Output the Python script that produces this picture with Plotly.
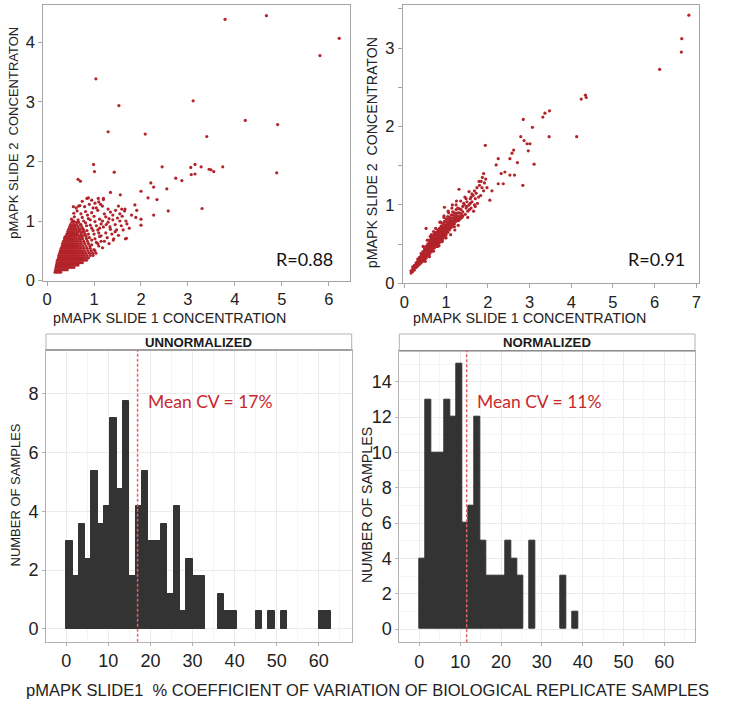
import plotly.graph_objects as go

W, H = 729, 706

# ---------------- DATA ----------------
# Top-left scatter (unnormalized): dense core read as rows (slide2 value, slide1 values)
core_rows_left = [
    (0.14, [0.17, 0.21, 0.25, 0.29]),
    (0.18, [0.18, 0.22, 0.26, 0.30, 0.34, 0.38, 0.43]),
    (0.22, [0.19, 0.23, 0.27, 0.31, 0.35, 0.39, 0.43, 0.47, 0.52, 0.57]),
    (0.26, [0.20, 0.24, 0.28, 0.32, 0.36, 0.40, 0.44, 0.48, 0.52, 0.56, 0.61, 0.66]),
    (0.30, [0.21, 0.25, 0.29, 0.33, 0.37, 0.41, 0.45, 0.49, 0.53, 0.57, 0.61, 0.65, 0.70, 0.75]),
    (0.34, [0.22, 0.26, 0.30, 0.34, 0.38, 0.42, 0.46, 0.50, 0.54, 0.58, 0.62, 0.66, 0.70, 0.74, 0.79, 0.84]),
    (0.38, [0.24, 0.28, 0.32, 0.36, 0.40, 0.44, 0.48, 0.52, 0.56, 0.60, 0.64, 0.68, 0.72, 0.77, 0.82, 0.88]),
    (0.42, [0.25, 0.29, 0.33, 0.37, 0.41, 0.45, 0.49, 0.53, 0.57, 0.61, 0.65, 0.69, 0.74, 0.79, 0.85, 0.92, 0.98]),
    (0.46, [0.27, 0.31, 0.35, 0.39, 0.43, 0.47, 0.51, 0.55, 0.59, 0.63, 0.67, 0.72, 0.77, 0.83, 0.90, 0.97, 1.04]),
    (0.50, [0.28, 0.32, 0.36, 0.40, 0.44, 0.48, 0.52, 0.56, 0.60, 0.64, 0.69, 0.74, 0.80, 0.87, 0.94, 1.02]),
    (0.54, [0.30, 0.34, 0.38, 0.42, 0.46, 0.50, 0.54, 0.58, 0.62, 0.67, 0.72, 0.78, 0.85, 0.92]),
    (0.58, [0.32, 0.36, 0.40, 0.44, 0.48, 0.52, 0.56, 0.60, 0.65, 0.70, 0.76, 0.83, 0.91]),
    (0.62, [0.33, 0.37, 0.41, 0.45, 0.49, 0.53, 0.57, 0.62, 0.67, 0.73, 0.80, 0.88]),
    (0.66, [0.35, 0.39, 0.43, 0.47, 0.51, 0.55, 0.60, 0.65, 0.71, 0.78, 0.86]),
    (0.70, [0.37, 0.41, 0.45, 0.49, 0.53, 0.58, 0.63, 0.69, 0.76, 0.84]),
    (0.74, [0.40, 0.44, 0.48, 0.52, 0.57, 0.62, 0.68, 0.75, 0.83]),
    (0.78, [0.42, 0.46, 0.50, 0.55, 0.60, 0.66, 0.73, 0.81]),
    (0.82, [0.44, 0.48, 0.53, 0.58, 0.64, 0.71, 0.79]),
    (0.86, [0.46, 0.51, 0.56, 0.62, 0.69, 0.77]),
    (0.90, [0.48, 0.53, 0.59, 0.66, 0.74]),
    (0.94, [0.50, 0.56, 0.63, 0.71]),
    (0.98, [0.53, 0.59, 0.67]),
]
# Top-left scatter: sparser points and outliers (slide1, slide2)
pts_left = [
    (0.38,0.73),(0.53,0.76),(0.63,0.78),(0.70,0.74),(0.80,0.77),(0.90,0.72),(1.00,0.78),(1.12,0.74),(1.25,0.80),
    (0.60,0.86),(0.68,0.83),(0.75,0.88),(0.85,0.84),(0.95,0.88),(1.08,0.85),(1.20,0.90),(1.35,0.86),
    (0.58,0.92),(0.65,0.98),(0.72,0.94),(0.82,0.97),(0.92,0.93),(1.02,0.99),(1.15,0.95),(1.30,0.98),(1.45,0.94),(1.55,1.00),
    (0.52,1.03),(0.58,1.07),(0.66,1.02),(0.75,1.06),(0.88,1.04),(1.00,1.08),(1.12,1.03),(1.25,1.07),(1.40,1.02),(1.50,1.05),(1.60,1.08),(1.68,1.00),
    (0.57,1.13),(0.64,1.17),(0.72,1.12),(0.82,1.16),(0.95,1.14),(1.08,1.18),(1.22,1.12),(1.35,1.15),(1.55,1.12),(1.65,1.17),
    (0.62,1.22),(0.70,1.26),(0.80,1.24),(0.90,1.28),(1.05,1.22),(1.18,1.25),(1.30,1.20),
    (0.75,1.33),(0.85,1.38),(0.95,1.35),(1.10,1.32),(1.20,1.38),
    (0.66,0.90),(0.56,1.00),(0.71,0.70),(1.05,0.64),(0.95,0.68),(1.00,0.52),(1.10,0.58),(1.15,0.66),
    (0.95,0.60),(1.02,0.70),(1.08,0.62),(1.15,0.75),(1.18,0.55),(1.22,0.66),(1.28,0.72),(1.32,0.62),(1.38,0.78),
    (1.42,0.70),(1.48,0.85),(1.52,0.76),(1.58,0.92),(1.62,0.85),(1.70,0.95),(1.75,0.88),(1.05,0.92),(1.12,0.88),
    (1.18,1.00),(1.26,0.94),(1.32,1.04),(1.40,1.10),(1.46,1.18),(1.52,1.25),(0.98,1.22),(1.02,1.30),(1.14,1.28),
    (0.86,1.10),(0.78,1.00),(0.92,1.02),(0.84,0.92),(0.76,0.82),(0.88,0.78),(0.98,0.84),(1.10,0.80),
    (0.88,1.39),(1.09,1.38),(1.20,1.36),(0.56,1.24),(0.67,1.25),(1.59,1.20),(1.66,1.20),(1.87,1.27),(1.91,1.18),(1.80,1.10),(1.89,1.06),
    (2.00,1.03),(2.00,0.93),(1.69,0.71),(1.41,0.68),(1.45,0.82),(1.34,0.90),
    (3.79,4.39),(4.67,4.45),(6.22,4.07),(5.81,3.78),(1.04,3.39),(3.11,3.02),(1.53,2.94),(4.22,2.69),(4.91,2.62),(1.30,2.50),
    (2.09,2.46),(3.40,2.42),(0.99,1.95),(3.15,1.95),(3.28,1.91),(3.74,1.91),(2.45,1.91),(3.06,1.90),(3.45,1.87),(3.49,1.86),
    (3.55,1.83),(1.01,1.83),(1.43,1.82),(4.89,1.81),(3.07,1.78),(3.15,1.79),(0.66,1.70),(0.71,1.67),(2.74,1.72),(2.87,1.68),
    (2.21,1.64),(2.27,1.57),(2.55,1.54),(1.35,1.48),(1.56,1.44),(2.00,1.50),(2.15,1.39),(2.34,1.36),(3.30,1.21),(2.58,1.17),
    (2.27,1.10),(1.67,0.70),
]

# Top-right scatter (normalized): dense band read as columns (slide1 value, slide2 values)
core_cols_right = [
    (0.16, [0.13, 0.16]),
    (0.20, [0.15, 0.18, 0.21]),
    (0.24, [0.17, 0.20, 0.23]),
    (0.28, [0.20, 0.23, 0.26]),
    (0.32, [0.22, 0.25, 0.28, 0.31]),
    (0.36, [0.24, 0.27, 0.30, 0.33]),
    (0.40, [0.26, 0.29, 0.32, 0.35, 0.38]),
    (0.44, [0.28, 0.31, 0.34, 0.37, 0.40]),
    (0.48, [0.30, 0.33, 0.36, 0.39, 0.42, 0.45]),
    (0.52, [0.32, 0.35, 0.38, 0.41, 0.44, 0.47]),
    (0.56, [0.35, 0.38, 0.41, 0.44, 0.47, 0.50]),
    (0.60, [0.37, 0.40, 0.43, 0.46, 0.49, 0.52, 0.55]),
    (0.64, [0.40, 0.43, 0.46, 0.49, 0.52, 0.55, 0.58]),
    (0.68, [0.42, 0.45, 0.48, 0.51, 0.54, 0.57, 0.60]),
    (0.72, [0.45, 0.48, 0.51, 0.54, 0.57, 0.60, 0.63]),
    (0.76, [0.47, 0.50, 0.53, 0.56, 0.59, 0.62, 0.65]),
    (0.80, [0.50, 0.53, 0.56, 0.59, 0.62, 0.65, 0.68]),
    (0.84, [0.52, 0.55, 0.58, 0.61, 0.64, 0.67, 0.70]),
    (0.88, [0.55, 0.58, 0.61, 0.64, 0.67, 0.70, 0.73]),
    (0.92, [0.57, 0.60, 0.63, 0.66, 0.69, 0.72, 0.76]),
    (0.96, [0.60, 0.63, 0.66, 0.69, 0.72, 0.75, 0.79]),
    (1.00, [0.62, 0.65, 0.68, 0.71, 0.74, 0.78, 0.82]),
    (1.04, [0.65, 0.68, 0.71, 0.74, 0.77, 0.81, 0.85]),
    (1.08, [0.68, 0.71, 0.74, 0.77, 0.80, 0.84]),
    (1.12, [0.71, 0.74, 0.77, 0.80, 0.83, 0.87]),
    (1.16, [0.73, 0.76, 0.79, 0.83, 0.87, 0.91]),
    (1.20, [0.76, 0.79, 0.82, 0.86, 0.90]),
    (1.24, [0.79, 0.82, 0.85, 0.89, 0.94]),
    (1.28, [0.82, 0.86, 0.90, 0.96]),
    (1.32, [0.85, 0.90, 0.95]),
    (1.36, [0.88, 0.94]),
    (1.40, [0.91, 0.98]),
]
# Top-right scatter: sparser points and outliers (slide1, slide2)
pts_right = [
    (0.83,0.48),(0.91,0.54),(0.99,0.58),(1.11,0.62),(1.21,0.68),(1.29,0.74),(0.52,0.70),(0.62,0.60),(0.70,0.66),
    (0.87,0.78),(0.95,0.84),(1.06,0.90),(1.14,0.96),(1.24,1.00),
    (0.50,0.28),(0.60,0.34),(0.70,0.41),(0.80,0.47),(0.90,0.53),(1.00,0.58),(0.45,0.47),(0.55,0.55),(0.65,0.62),
    (0.75,0.70),(0.85,0.78),(0.95,0.86),(1.05,0.92),(1.15,1.00),(1.25,1.05),(1.20,0.72),(1.30,0.80),(1.38,0.84),
    (1.42,1.02),(1.48,1.08),(1.56,0.94),(1.62,1.14),(1.68,1.18),(1.74,1.22),(1.60,1.10),(1.70,0.98),(1.78,1.10),
    (1.86,1.22),(1.50,0.98),(1.58,1.02),
    (1.34,0.82),(1.40,0.86),(1.44,1.00),(1.46,0.88),(1.48,0.96),(1.50,1.04),(1.52,0.92),(1.55,1.00),(1.58,1.08),(1.60,0.96),
    (1.62,1.04),(1.65,1.12),(1.68,1.00),(1.70,1.08),(1.72,1.15),(1.35,1.05),(1.45,1.10),(1.55,1.17),(1.66,0.92),(1.52,0.84),(1.75,1.02),
    (1.80,1.25),(1.84,1.30),(1.87,1.35),(1.90,1.40),(1.92,1.28),(1.95,1.33),(1.98,1.22),(1.83,1.12),(1.90,1.18),(2.05,1.06),(2.10,1.18),(1.94,1.76),(1.79,1.30),
    (2.20,1.51),(2.25,1.59),(2.32,1.40),(2.41,1.42),(2.25,1.27),(2.37,1.27),(2.53,1.38),(2.64,1.38),(2.58,1.66),(2.62,1.70),(2.53,1.59),(2.71,1.54),(2.79,1.87),(2.87,1.82),
    (2.94,1.78),(3.01,1.78),(2.97,1.69),(3.11,1.52),(2.84,1.25),(2.85,2.09),(3.07,1.99),(3.47,1.87),(4.13,1.87),(3.32,2.12),(3.37,2.17),(3.48,2.20),(4.24,2.35),(4.34,2.40),
    (4.36,2.37),(6.12,2.73),(6.64,2.95),(6.65,3.12),(6.82,3.42),(1.31,1.20),(0.96,0.97),
]

# Histograms: bin left edges (CV %), counts; bin width 1.5
bin_width = 1.5
unnorm_bins = [0, 1.5, 3, 4.5, 6, 7.5, 9, 10.5, 12, 13.5, 15, 16.5, 18, 19.5, 21, 22.5, 24, 25.5, 27, 28.5, 30, 31.5,
               36, 37.5, 39, 45, 48, 51, 60, 61.5]
unnorm_counts = [5, 3, 6, 4, 9, 6, 7, 12, 8, 13, 3, 7, 9, 5, 5, 6, 2, 7, 1, 4, 3, 3,
                 2, 1, 1, 1, 1, 1, 1, 1]
norm_bins = [0, 1.5, 3, 4.5, 6, 7.5, 9, 10.5, 12, 13.5, 15, 16.5, 18, 19.5, 21, 22.5, 24, 27, 34.5, 37.5]
norm_counts = [4, 13, 10, 10, 13, 12, 15, 6, 7, 12, 5, 3, 3, 3, 5, 4, 3, 5, 3, 1]

mean_cv_unnorm = 16.95
mean_cv_norm = 11.6
mean_cv_labels = ["Mean CV = 17%", "Mean CV = 11%"]
r_labels = ["R=0.88", "R=0.91"]

# printed y-axis labels of the left histogram and where they sit on the count scale
unnorm_tick_pos = [0, 3.35, 6.7, 10.05, 13.4]
unnorm_tick_text = ["0", "2", "4", "6", "8"]
norm_ticks = [0, 2, 4, 6, 8, 10, 12, 14]
hist_xticks = [0, 10, 20, 30, 40, 50, 60]

# ---------------- FIGURE ----------------
RED = "#b3232a"
BAR = "#333333"
FRAME = "#a6a6a6"
HFRAME = "#b3b3b3"
SANS = "Liberation Sans, Arial, sans-serif"
CAL = "Lato, Carlito, Calibri, sans-serif"


def px(x):
    return x / W


def py(y):
    return 1 - y / H


lx = [p[0] for p in pts_left] + [x for (y, xs) in core_rows_left for x in xs]
ly = [p[1] for p in pts_left] + [y for (y, xs) in core_rows_left for x in xs]
rx = [p[0] for p in pts_right] + [x for (x, ys) in core_cols_right for y in ys]
ry = [p[1] for p in pts_right] + [y for (x, ys) in core_cols_right for y in ys]

fig = go.Figure()
fig.add_trace(go.Scatter(x=lx, y=ly, mode="markers",
                         marker=dict(size=3.2, color=RED, line=dict(width=0)), xaxis="x", yaxis="y",
                         hoverinfo="skip", showlegend=False))
fig.add_trace(go.Scatter(x=rx, y=ry, mode="markers",
                         marker=dict(size=3.2, color=RED, line=dict(width=0)), xaxis="x2", yaxis="y2",
                         hoverinfo="skip", showlegend=False))
fig.add_trace(go.Bar(x=unnorm_bins, y=unnorm_counts, width=bin_width, offset=0,
                     marker=dict(color=BAR, line=dict(width=1, color=BAR)),
                     xaxis="x3", yaxis="y3", showlegend=False, hoverinfo="skip"))
fig.add_trace(go.Bar(x=norm_bins, y=norm_counts, width=bin_width, offset=0,
                     marker=dict(color=BAR, line=dict(width=1, color=BAR)),
                     xaxis="x4", yaxis="y4", showlegend=False, hoverinfo="skip"))

scat_common = dict(showgrid=False, zeroline=False, showline=True, linecolor=FRAME, linewidth=1,
                   mirror=True, ticks="outside", ticklen=4, tickcolor=FRAME, automargin=False,
                   tickfont=dict(family=SANS, size=16.5, color="#222"))
hist_common = dict(showgrid=True, gridcolor="#ebebeb", gridwidth=1, zeroline=False, showline=True,
                   linecolor=HFRAME, linewidth=1, mirror=True, ticks="outside", ticklen=3,
                   tickcolor=HFRAME, automargin=False, tickfont=dict(family=SANS, size=18, color="#222"))

fig.update_layout(
    template="none",
    width=W, height=H, autosize=False,
    margin=dict(l=0, r=0, t=0, b=0, pad=0),
    paper_bgcolor="white", plot_bgcolor="white",
    bargap=0, showlegend=False,
    xaxis=dict(domain=[px(43.3), px(350)], range=[-0.08, 6.45], anchor="y",
               tickvals=[0, 1, 2, 3, 4, 5, 6], **scat_common),
    yaxis=dict(domain=[py(280.5), py(5)], range=[0, 4.63], anchor="x",
               tickvals=[0, 1, 2, 3, 4], **scat_common),
    xaxis2=dict(domain=[px(402.7), px(699.3)], range=[-0.04, 7.07], anchor="y2",
                tickvals=[0, 1, 2, 3, 4, 5, 6, 7], **scat_common),
    yaxis2=dict(domain=[py(283.3), py(5)], range=[0, 3.55], anchor="x2",
                tickvals=[0, 0.5, 1, 1.5, 2, 2.5, 3, 3.5],
                ticktext=["0", "", "1", "", "2", "", "3", ""], **scat_common),
    xaxis3=dict(domain=[px(46), px(351.7)], range=[-4.8, 67.8], anchor="y3",
                tickvals=hist_xticks, minor=dict(dtick=5, tick0=5, showgrid=True, gridcolor="#f5f5f5"),
                **hist_common),
    yaxis3=dict(domain=[py(641.7), py(350)], range=[-0.73, 15.9], anchor="x3",
                tickvals=unnorm_tick_pos, ticktext=unnorm_tick_text, **hist_common),
    xaxis4=dict(domain=[px(399.3), px(695)], range=[-4.9, 67.5], anchor="y4",
                tickvals=hist_xticks, minor=dict(dtick=5, tick0=5, showgrid=True, gridcolor="#f5f5f5"),
                **hist_common),
    yaxis4=dict(domain=[py(642.3), py(350.7)], range=[-0.75, 15.76], anchor="x4",
                tickvals=norm_ticks, minor=dict(dtick=1, tick0=1, showgrid=True, gridcolor="#f5f5f5"),
                **hist_common),
)

shapes = []
for (x0, x1, y0, y1) in [(46, 351.7, 334, 350), (399.3, 695, 334, 350.7)]:
    shapes.append(dict(type="rect", xref="paper", yref="paper", x0=px(x0), x1=px(x1), y0=py(y1), y1=py(y0),
                       fillcolor="white", line=dict(color=HFRAME, width=1), layer="above"))
    shapes.append(dict(type="line", xref="paper", yref="paper", x0=px(x0), x1=px(x1), y0=py(y1), y1=py(y1),
                       line=dict(color="#8c8c8c", width=1.5), layer="above"))
shapes.append(dict(type="line", xref="x3", yref="y3 domain", x0=mean_cv_unnorm, x1=mean_cv_unnorm, y0=0, y1=1,
                   line=dict(color="#e06666", width=1.5, dash="3px,2px"), layer="above"))
shapes.append(dict(type="line", xref="x4", yref="y4 domain", x0=mean_cv_norm, x1=mean_cv_norm, y0=0, y1=1,
                   line=dict(color="#e06666", width=1.5, dash="3px,2px"), layer="above"))

ann = []


def text(x, y, s, size, family=SANS, color="#222", xanchor="center", angle=0, bold=False):
    ann.append(dict(x=px(x), y=py(y), xref="paper", yref="paper", text=("<b>%s</b>" % s) if bold else s,
                    showarrow=False, xanchor=xanchor, yanchor="middle", textangle=angle, borderpad=0,
                    font=dict(family=family, size=size, color=color)))


text(198.7, 342, "UNNORMALIZED", 13.2, bold=True, color="#1a1a1a")
text(547, 342.3, "NORMALIZED", 13.2, bold=True, color="#1a1a1a")
text(147, 401, mean_cv_labels[0], 17.5, family=CAL, color="#c8282d", xanchor="left")
text(475.7, 401, mean_cv_labels[1], 17.5, family=CAL, color="#c8282d", xanchor="left")
text(304, 259, r_labels[0], 18, family=CAL, color="#111")
text(656, 259, r_labels[1], 18, family=CAL, color="#111")
text(169, 318, "pMAPK SLIDE 1 CONCENTRATION", 14.3, color="#222")
text(529, 318.3, "pMAPK SLIDE 1 CONCENTRATION", 14.3, color="#222")
text(12.7, 133, "pMAPK SLIDE 2\u00a0 CONCENTRATON", 13, color="#222", angle=-90)
text(371.7, 152.5, "pMAPK SLIDE 2\u00a0 CONCENTRATON", 14.2, color="#222", angle=-90)
text(14.5, 495, "NUMBER OF SAMPLES", 13, color="#222", angle=-90)
text(367, 505, "NUMBER OF SAMPLES", 14.2, color="#222", angle=-90)
text(368, 690, "pMAPK SLIDE1\u00a0 % COEFFICIENT OF VARIATION OF BIOLOGICAL REPLICATE SAMPLES", 16.5, color="#222")

fig.update_layout(shapes=shapes, annotations=ann)
# remove the browser's default 8px page margin so the figure sits at the window origin
fig.write_html("out.html", config={"displayModeBar": False},
               post_script="document.body.style.margin='0';")
